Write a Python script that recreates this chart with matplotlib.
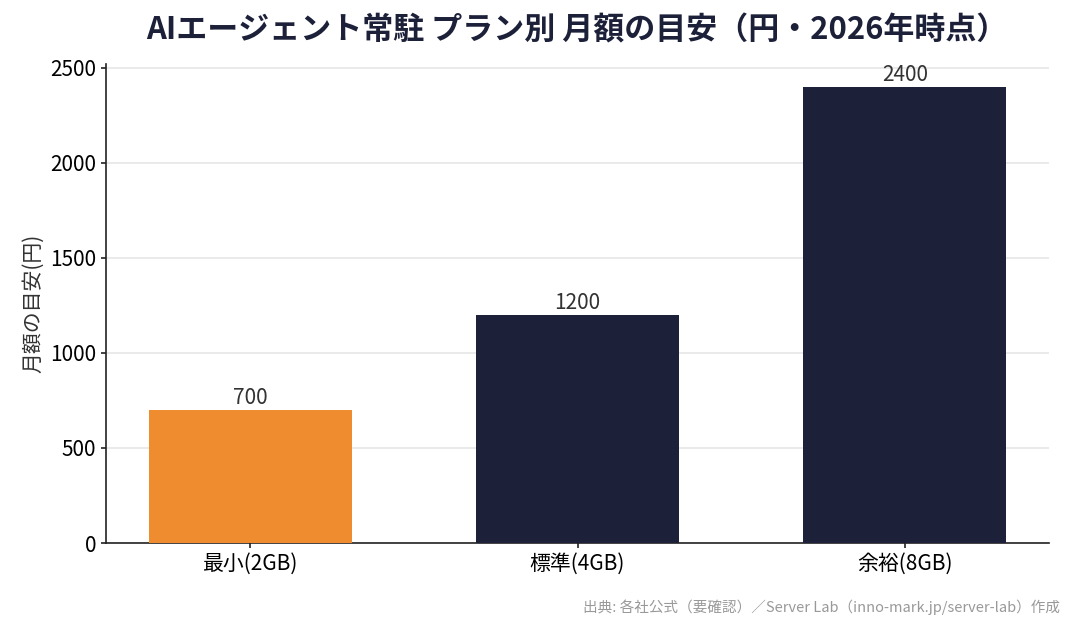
import matplotlib
matplotlib.use("Agg")
import matplotlib.pyplot as plt

plt.rcParams['font.family'] = ['Noto Sans CJK JP', 'DejaVu Sans']

categories = ["最小(2GB)", "標準(4GB)", "余裕(8GB)"]
values = [700, 1200, 2400]
colors = ["#F08C30", "#1C2039", "#1C2039"]
yticks = [0, 500, 1000, 1500, 2000, 2500]

fig = plt.figure(figsize=(10.76, 6.3), dpi=100)
ax = fig.add_axes([106/1076, 1-543/630, (1049-106)/1076, (543-64)/630])

bars = ax.bar(range(len(categories)), values, width=0.62, color=colors, zorder=3)
for b, v in zip(bars, values):
    ax.text(b.get_x() + b.get_width()/2, v + 5, f"{v}", ha="center", va="bottom",
            fontsize=15, color="#333333")

ax.set_xticks(range(len(categories)))
ax.set_xticklabels(categories, fontsize=15)
ax.set_yticks(yticks)
ax.set_yticklabels([str(t) for t in yticks], fontsize=15)
ax.set_ylim(0, 2520)
ax.set_ylabel("月額の目安(円)", fontsize=15, color="#333333")
ax.grid(axis="y", color="#e6e6e6", linewidth=1.2, zorder=0)
ax.spines["top"].set_visible(False)
ax.spines["right"].set_visible(False)
for s in ("left", "bottom"):
    ax.spines[s].set_color("#222222")
    ax.spines[s].set_linewidth(1.2)
ax.tick_params(color="#222222", width=1.2)

fig.text(577/1076, 1-30/630, "AIエージェント常駐 プラン別 月額の目安（円・2026年時点）",
         ha="center", va="center", fontsize=22.3, fontweight="bold", color="#1C2039")
fig.text(1060/1076, 1-607/630, "出典: 各社公式（要確認）／Server Lab（inno-mark.jp/server-lab）作成",
         ha="right", va="center", fontsize=10.5, color="#999999")

fig.savefig("out.png", dpi=100)
